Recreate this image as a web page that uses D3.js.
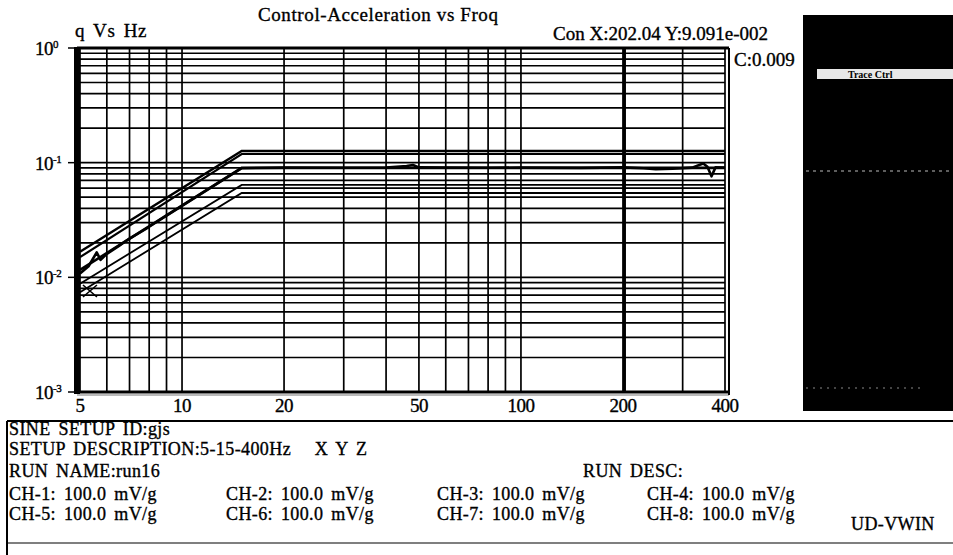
<!DOCTYPE html>
<html lang="en">
<head>
<meta charset="UTF-8" />
<title>Control-Acceleration vs Froq</title>
<style>
  html, body { margin: 0; background: #fff; }
  svg { display: block; font-family: "Liberation Serif", "Times New Roman", serif; }
  text { fill: #000; stroke: #000; stroke-width: 0.35px; letter-spacing: 0.6px; }
</style>
<script src="https://cdn.jsdelivr.net/npm/d3@7"></script>
</head>
<body>
<script>
  // profile break points (Hz) and limit / reference levels (g)
  const limitFreqs = [5, 15, 400];
  const abortHigh = [0.0167, 0.1265, 0.1265];
  const alarmHigh = [0.0150, 0.119, 0.119];
  const refProfile = [0.0116, 0.09, 0.09];
  const alarmLow = [0.0088, 0.064, 0.064];
  const abortLow = [0.0074, 0.0544, 0.0544];

  // measured control trace
  const controlFreqs = [5, 5.3, 5.6, 5.75, 6, 6.5, 7, 8, 9, 10, 12, 15, 20, 30, 40, 46, 48, 50,
    60, 80, 100, 150, 200, 230, 250, 280, 320, 345, 355, 365, 375, 400];
  const controlG = [0.0108, 0.0125, 0.0165, 0.0142, 0.0160, 0.0187, 0.0218, 0.0276, 0.0345, 0.0420,
    0.0590, 0.0895, 0.0905, 0.0902, 0.0908, 0.0935, 0.0955, 0.0910, 0.0905, 0.0903, 0.0905, 0.0900,
    0.0909, 0.0895, 0.0875, 0.0885, 0.0905, 0.0985, 0.0920, 0.0760, 0.0910, 0.0905];

  // cursor / check marker
  const cursorFreq = 202.04;
  const cursorG = 0.09091;
  const checkFreq = 5.35;
  const checkG = 0.0076;

  // axis labels
  const xTickValues = [5, 10, 20, 50, 100, 200, 400];
  const yTickValues = [1, 0.1, 0.01, 0.001];
  const yTickExp = ["0", "-1", "-2", "-3"];

  const width = 953;
  const height = 555;

  const svg = d3.select("body").append("svg")
    .attr("width", width)
    .attr("height", height);

  const xScale = d3.scaleLog().domain([5, 400]).range([80, 725]);
  const yScale = d3.scaleLog().domain([0.001, 1]).range([392, 48]);

  // titles
  svg.append("text").attr("x", 258).attr("y", 21)
    .attr("font-size", 19).text("Control-Acceleration vs Froq");
  svg.append("text").attr("x", 75).attr("y", 37)
    .attr("font-size", 19).style("word-spacing", "3px").text("q Vs Hz");
  svg.append("text").attr("x", 553).attr("y", 40)
    .attr("font-size", 19).style("letter-spacing", "0px").text("Con X:202.04 Y:9.091e-002");
  svg.append("text").attr("x", 734).attr("y", 66)
    .attr("font-size", 19).style("letter-spacing", "0px").text("C:0.009");

  // grid
  const grid = svg.append("g").attr("stroke", "#000").attr("stroke-width", 1.7);
  grid.selectAll(".vg")
    .data(xScale.ticks())
    .enter().append("line")
    .attr("class", "vg")
    .attr("x1", d => xScale(d)).attr("x2", d => xScale(d))
    .attr("y1", yScale(1)).attr("y2", yScale(0.001));
  grid.selectAll(".hg")
    .data(yScale.ticks())
    .enter().append("line")
    .attr("class", "hg")
    .attr("x1", xScale(5)).attr("x2", xScale(400))
    .attr("y1", d => yScale(d)).attr("y2", d => yScale(d));

  // frame
  const frame = svg.append("g").attr("stroke", "#000").attr("fill", "none");
  frame.append("line").attr("x1", 77).attr("x2", 77)
    .attr("y1", yScale(1) - 1).attr("y2", yScale(0.001) + 2).attr("stroke-width", 6);
  frame.append("line").attr("x1", 77).attr("x2", 729)
    .attr("y1", yScale(1)).attr("y2", yScale(1)).attr("stroke-width", 3);
  frame.append("line").attr("x1", 77).attr("x2", 729)
    .attr("y1", yScale(0.001)).attr("y2", yScale(0.001)).attr("stroke-width", 3);
  frame.append("line").attr("x1", 77).attr("x2", 729)
    .attr("y1", yScale(0.001) + 3).attr("y2", yScale(0.001) + 3)
    .attr("stroke-width", 1).attr("stroke", "#777");
  frame.append("line").attr("x1", 729).attr("x2", 729)
    .attr("y1", yScale(1)).attr("y2", yScale(0.001) + 3).attr("stroke-width", 2);

  // y ticks
  svg.selectAll(".ytick")
    .data(yTickValues)
    .enter().append("line")
    .attr("class", "ytick")
    .attr("x1", 68).attr("x2", 76)
    .attr("y1", d => yScale(d)).attr("y2", d => yScale(d))
    .attr("stroke", "#000").attr("stroke-width", 1.5);
  const ylab = svg.selectAll(".ylab")
    .data(yTickValues)
    .enter().append("text")
    .attr("class", "ylab")
    .attr("x", 35)
    .attr("y", d => yScale(d) + 7)
    .attr("font-size", 19)
    .style("letter-spacing", "-0.5px");
  ylab.append("tspan").text("10");
  ylab.append("tspan")
    .attr("font-size", 11)
    .attr("dy", -7)
    .text((d, i) => yTickExp[i]);

  // x tick labels
  svg.selectAll(".xlab")
    .data(xTickValues)
    .enter().append("text")
    .attr("class", "xlab")
    .attr("x", d => xScale(d))
    .attr("y", 412)
    .attr("text-anchor", "middle")
    .attr("font-size", 19)
    .style("letter-spacing", "-0.5px")
    .text(d => d);

  // limit lines
  const line = d3.line()
    .x(d => xScale(d[0]))
    .y(d => yScale(d[1]));
  const limits = [abortHigh, alarmHigh, refProfile, alarmLow, abortLow];
  const limitWidths = [2.4, 2.2, 2.6, 1.8, 1.8];
  svg.append("g").selectAll("path")
    .data(limits)
    .enter().append("path")
    .attr("d", vals => line(limitFreqs.map((f, i) => [f, vals[i]])))
    .attr("fill", "none")
    .attr("stroke", "#000")
    .attr("stroke-width", (d, i) => limitWidths[i]);

  // control trace
  svg.append("path")
    .attr("d", line(controlFreqs.map((f, i) => [f, controlG[i]])))
    .attr("fill", "none")
    .attr("stroke", "#000")
    .attr("stroke-width", 2.6)
    .attr("stroke-linejoin", "round");

  // cursor line
  svg.append("line")
    .attr("x1", xScale(cursorFreq)).attr("x2", xScale(cursorFreq))
    .attr("y1", yScale(1)).attr("y2", yScale(0.001))
    .attr("stroke", "#000").attr("stroke-width", 3);

  // check marker
  const cx = xScale(checkFreq);
  const cy = yScale(checkG);
  svg.append("path")
    .attr("d", `M${cx - 7},${cy - 6}L${cx + 7},${cy + 6}M${cx - 7},${cy + 6}L${cx + 7},${cy - 6}`)
    .attr("stroke", "#000").attr("stroke-width", 1.6);

  // trace panel
  svg.append("rect").attr("x", 803).attr("y", 15).attr("width", 150).attr("height", 396)
    .attr("fill", "#000");
  svg.append("rect").attr("x", 817).attr("y", 69).attr("width", 136).attr("height", 10)
    .attr("fill", "#e8e8e8");
  svg.append("text").attr("x", 848).attr("y", 78)
    .attr("font-size", 10).attr("font-weight", "bold")
    .style("letter-spacing", "0px").style("stroke-width", "0px").text("Trace Ctrl");
  svg.append("line").attr("x1", 806).attr("x2", 953).attr("y1", 171).attr("y2", 171)
    .attr("stroke", "#bbb").attr("stroke-width", 1).attr("stroke-dasharray", "3,4");
  svg.append("line").attr("x1", 806).attr("x2", 925).attr("y1", 388).attr("y2", 388)
    .attr("stroke", "#888").attr("stroke-width", 1).attr("stroke-dasharray", "2,5");

  // info box
  const box = svg.append("g").attr("stroke", "#000").attr("stroke-width", 2);
  box.append("line").attr("x1", 7).attr("x2", 953).attr("y1", 421).attr("y2", 421);
  box.append("line").attr("x1", 7).attr("x2", 7).attr("y1", 421).attr("y2", 555);
  box.append("line").attr("x1", 7).attr("x2", 953).attr("y1", 543).attr("y2", 543)
    .attr("stroke-width", 1.2);

  const infoLines = [
    ["SINE SETUP ID:gjs", 9, 435],
    ["SETUP DESCRIPTION:5-15-400Hz\u00a0\u00a0\u00a0X Y Z", 9, 455],
    ["RUN\u00a0NAME:run16", 9, 477],
    ["RUN DESC:", 583, 477],
    ["CH-1: 100.0 mV/g", 9, 500],
    ["CH-2: 100.0 mV/g", 226, 500],
    ["CH-3: 100.0 mV/g", 437, 500],
    ["CH-4: 100.0 mV/g", 647, 500],
    ["CH-5: 100.0 mV/g", 9, 520],
    ["CH-6: 100.0 mV/g", 226, 520],
    ["CH-7: 100.0 mV/g", 437, 520],
    ["CH-8: 100.0 mV/g", 647, 520],
    ["UD-VWIN", 851, 530]
  ];
  svg.selectAll(".info")
    .data(infoLines)
    .enter().append("text")
    .attr("class", "info")
    .attr("x", d => d[1])
    .attr("y", d => d[2])
    .attr("font-size", 18)
    .style("letter-spacing", "0.4px")
    .style("word-spacing", "3px")
    .text(d => d[0]);
</script>
</body>
</html>
